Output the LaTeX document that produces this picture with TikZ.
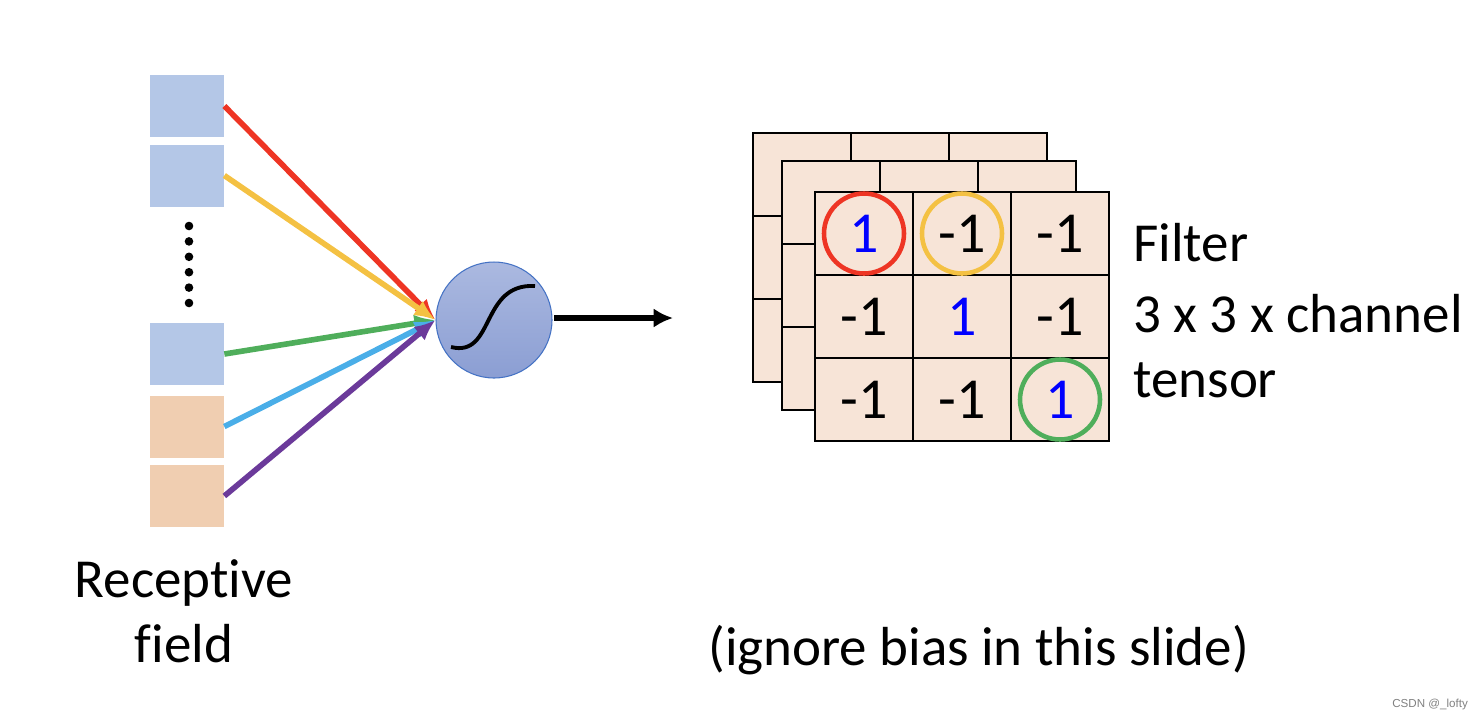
\documentclass[tikz,border=0pt]{standalone}
\usepackage{fontspec}
\setmainfont{Carlito}[Ligatures={NoCommon, NoContextual, NoRequired, NoRare}]
\newfontfamily\wmfont{Liberation Sans}
\usetikzlibrary{arrows.meta}

\definecolor{rfblue}{HTML}{B4C7E7}
\definecolor{rforange}{HTML}{F0CEB1}
\definecolor{gridfill}{HTML}{F7E4D7}
\definecolor{wred}{HTML}{EE3524}
\definecolor{wyellow}{HTML}{F4C143}
\definecolor{wgreen}{HTML}{4FAE5B}
\definecolor{wblue}{HTML}{4AAEE8}
\definecolor{wpurple}{HTML}{6B3A9A}
\definecolor{neutop}{HTML}{ABB9E0}
\definecolor{neubot}{HTML}{8B9ED3}
\definecolor{neuedge}{HTML}{4472C4}

\tikzset{
    rfbox/.style={minimum width=1.48cm, minimum height=1.24cm, inner sep=0},
    wire/.style={-{Latex[length=12pt, width=10pt]}, line width=3.2pt},
    gridline/.style={line width=1.1pt},
    cell/.style={draw=black, line width=1.1pt, fill=gridfill, minimum width=1.96cm,
        minimum height=1.66cm, inner sep=0, font=\fontsize{33}{40}\selectfont},
    ring/.style={circle, line width=2.6pt, minimum size=1.6cm, inner sep=0},
    lbl/.style={inner sep=0, font=\fontsize{31.3}{38}\selectfont},
}

\begin{document}
\begin{tikzpicture}[x=0.02cm, y=-0.02cm]
    \useasboundingbox (0, 0) rectangle (1480, 718);

    % receptive field
    \node[rfbox, fill=rfblue] (rf1) at (187, 106) {};
    \node[rfbox, fill=rfblue] (rf2) at (187, 175.5) {};
    \node[rfbox, fill=rfblue] (rf3) at (187, 354) {};
    \node[rfbox, fill=rforange] (rf4) at (187, 426.5) {};
    \node[rfbox, fill=rforange] (rf5) at (187, 496) {};
    \foreach \i in {0,...,5}
        \fill (189, 226+15.4*\i) circle (4.3);

    % neuron
    \node[circle, minimum size=2.32cm, top color=neutop, bottom color=neubot,
        draw=neuedge, line width=0.6pt] (neuron) at (494, 320) {};
    \draw[line width=2.2pt] ([shift={(-43,27)}]neuron.center)
        .. controls ([shift={(1,38)}]neuron.center) and ([shift={(-14,-37)}]neuron.center)
        .. ([shift={(41,-34)}]neuron.center);

    \draw[wire, wred] (rf1.east) -- (neuron.west);
    \draw[wire, wyellow] (rf2.east) -- (neuron.west);
    \draw[wire, wgreen] (rf3.east) -- (neuron.west);
    \draw[wire, wblue] (rf4.east) -- (neuron.west);
    \draw[wire, wpurple] (rf5.east) -- (neuron.west);

    \coordinate (outend) at (673, 318);
    \draw[-{Latex[length=11pt, width=11pt]}, line width=3pt, shorten <=1pt] (neuron.east |- outend) -- (outend);

    % filter (channels behind)
    \foreach \ox/\oy in {753/133, 782/161} {
        \filldraw[gridline, fill=gridfill] (\ox, \oy) rectangle ++(294, 249);
        \foreach \k in {1, 2} {
            \draw[gridline] (\ox+\k*98, \oy) -- ++(0, 249);
            \draw[gridline] (\ox, \oy+\k*83) -- ++(294, 0);
        }
    }

    % front channel
    \foreach \r/\c/\v/\col in {1/1/1/blue, 1/2/-1/black, 1/3/-1/black,
                               2/1/-1/black, 2/2/1/blue, 2/3/-1/black,
                               3/1/-1/black, 3/2/-1/black, 3/3/1/blue}
        \node[cell, text=\col] (c-\r-\c) at (766+98*\c, 150.5+83*\r) {\v};

    \node[ring, draw=wred] (ring-red) at (c-1-1) {};
    \node[ring, draw=wyellow] (ring-yellow) at (c-1-2) {};
    \node[ring, draw=wgreen] (ring-green) at (c-3-3) {};

    % labels
    \node[lbl, anchor=base west] (filterlbl) at (1133, 261) {Filter};
    \node[lbl, anchor=base west] (sizelbl) at (1133, 332) {3 x 3 x channel};
    \node[lbl, anchor=base west] (tensorlbl) at (1133, 397) {tensor};

    \node[lbl, anchor=base] (rflbl) at (184, 597) {Receptive};
    \node[lbl, anchor=base] (rflbl2) at (184, 662) {field};

    \node[lbl, anchor=base west] (biaslbl) at (708, 665) {(ignore bias in this slide)};

    \node[anchor=base west, inner sep=0, text=gray,
        font=\wmfont\fontsize{6.6}{8}\selectfont] (mark) at (1392, 707) {CSDN @\_lofty};

\end{tikzpicture}
\end{document}
